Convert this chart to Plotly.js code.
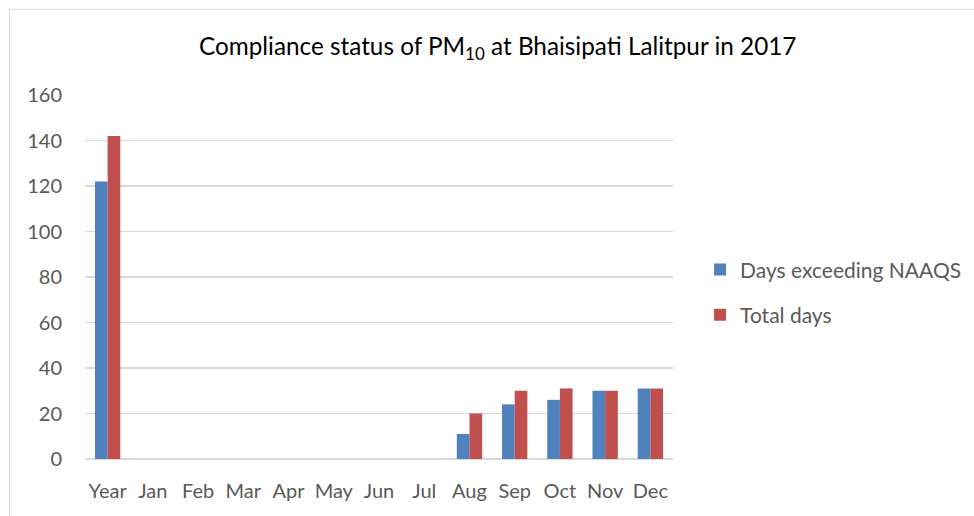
<!DOCTYPE html>
<html>
<head>
<meta charset="utf-8">
<script src="https://cdn.plot.ly/plotly-3.0.1.min.js"></script>
<style>
html,body{margin:0;padding:0;background:#fff;}
#wrap{position:relative;width:974px;height:516px;}
#chart{position:absolute;left:0;top:0;width:974px;height:516px;}
#frame{position:absolute;left:9px;top:9px;width:980px;height:520px;border-left:1px solid #d9d9d9;border-top:1px solid #d9d9d9;pointer-events:none;}
</style>
</head>
<body>
<div id="wrap"><div id="chart"></div><div id="frame"></div></div>
<script>
const categories = ["Year","Jan","Feb","Mar","Apr","May","Jun","Jul","Aug","Sep","Oct","Nov","Dec"];
const daysExceeding = [122,0,0,0,0,0,0,0,11,24,26,30,31];
const totalDays = [142,0,0,0,0,0,0,0,20,30,31,30,31];
const yTicks = [0,20,40,60,80,100,120,140,160];

const font = "Lato, 'Open Sans', sans-serif";
const traces = [
  {type:"bar", name:"Days exceeding NAAQS", x:categories, y:daysExceeding,
   marker:{color:"#4F81BD"}, legendgroup:"a"},
  {type:"bar", name:"Total days", x:categories, y:totalDays,
   marker:{color:"#C0504D"}, legendgroup:"b"}
];
const layout = {
  width:974, height:516,
  margin:{l:85, r:301, t:95, b:57, autoexpand:false},
  paper_bgcolor:"#fff", plot_bgcolor:"#fff",
  font:{family:font, color:"#595959", size:20},
  barmode:"group", bargap:0.44, bargroupgap:0,
  title:{text:"Compliance status of PM<sub>10</sub> at Bhaisipati Lalitpur in 2017",
    font:{family:font, size:24.3, color:"#000"},
    xref:"container", yref:"container", x:0.511, xanchor:"center", y:0.91, yanchor:"middle"},
  xaxis:{type:"category", tickvals:categories, ticktext:categories, showgrid:false, showline:false,
    zeroline:false, ticks:"", ticklabelstandoff:18, tickfont:{size:20, color:"#595959"}, fixedrange:true},
  yaxis:{range:[0,160], tickvals:yTicks, showgrid:true, gridcolor:"#d9d9d9", gridwidth:1.3,
    zeroline:true, zerolinecolor:"#d9d9d9", zerolinewidth:1.3, showline:false, ticks:"",
    ticklabelstandoff:22, tickfont:{size:20, color:"#595959"}, fixedrange:true},
  legend:{x:1.046, xanchor:"left", y:0.458, yanchor:"middle", xref:"paper", yref:"paper",
    font:{size:21, color:"#595959"}, tracegroupgap:15, itemwidth:30, bgcolor:"rgba(0,0,0,0)"},
  showlegend:true
};
Plotly.newPlot("chart", traces, layout, {displayModeBar:false, staticPlot:true});
</script>
</body>
</html>
